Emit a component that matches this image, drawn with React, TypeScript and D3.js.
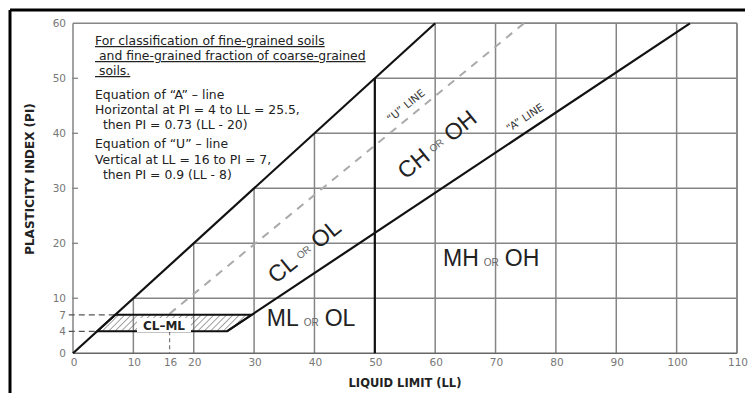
import React from "react";
import * as d3 from "d3";

const xTickLabels = [0, 10, 16, 20, 30, 40, 50, 60, 70, 80, 90, 100, 110];
const yTickLabels = [0, 4, 7, 10, 20, 30, 40, 50, 60];
const gridX = [10, 20, 30, 40, 50, 60, 70, 80, 90, 100, 110];
const gridY = [10, 20, 30, 40, 50, 60];
const yInnerTicks = [10, 20, 30, 40, 50];

// boundary lines in (LL, PI)
const boundaryLine: [number, number][] = [[0, 0], [60, 60]];
const llFiftyLine: [number, number][] = [[50, 0], [50, 50]];
const aLine: [number, number][] = [[25.5, 4], [102.2, 60]];
const uLine: [number, number][] = [[16, 7.2], [74.7, 60]];
const uVertical: [number, number][] = [[16, 4], [16, 0]];
const clmlZone: [number, number][] = [[4, 4], [25.5, 4], [29.6, 7], [7, 7]];
const refDash7: [number, number][] = [[-0.7, 7], [7, 7]];
const refDash4: [number, number][] = [[-0.7, 4], [4, 4]];

const headerLines = [
  "For classification of fine-grained soils",
  " and fine-grained fraction of coarse-grained",
  " soils.",
];
const equationLines = [
  "Equation of \u201CA\u201D \u2013 line",
  "Horizontal at PI = 4 to LL = 25.5,",
  "  then PI = 0.73 (LL - 20)",
  "Equation of \u201CU\u201D \u2013 line",
  "Vertical at LL = 16 to PI = 7,",
  "  then PI = 0.9 (LL - 8)",
];

export default function App() {
  const W = 750, H = 393;
  const x = d3.scaleLinear().domain([0, 110]).range([73, 737]);
  const y = d3.scaleLinear().domain([0, 60]).range([353.3, 23.3]);
  const line = d3.line<[number, number]>().x(d => x(d[0])).y(d => y(d[1]));
  const sans = "'DejaVu Sans', Verdana, sans-serif";
  const arial = "'Liberation Sans', Arial, sans-serif";
  const gridColor = "#858585";

  const eqY = [99, 114, 129, 148, 164, 179];

  return (
    <svg width={W} height={H} style={{ position: "absolute", left: 0, top: 0, background: "#fff" }}>
      <defs>
        <pattern id="hatch" patternUnits="userSpaceOnUse" width={4.5} height={4.5} patternTransform="rotate(45)">
          <line x1={0} y1={0} x2={0} y2={4.5} stroke="#555" strokeWidth={1.1} />
        </pattern>
      </defs>
      <rect x={0} y={0} width={W} height={H} fill="#fff" />
      {/* outer frame */}
      <line x1={10} y1={10} x2={745} y2={10} stroke="#000" strokeWidth={3} />
      <line x1={10} y1={10} x2={10} y2={H} stroke="#000" strokeWidth={3} />

      {/* grid, only below the PI = LL boundary */}
      {gridX.map(v => (
        <line key={"gx" + v} x1={x(v)} x2={x(v)} y1={y(0)} y2={y(Math.min(v, 60))} stroke={gridColor} strokeWidth={1.5} />
      ))}
      {gridY.map(v => (
        <line key={"gy" + v} x1={x(v)} x2={x(110)} y1={y(v)} y2={y(v)} stroke={gridColor} strokeWidth={1.5} />
      ))}
      {/* frame of plot */}
      <line x1={x(0)} x2={x(110)} y1={y(60)} y2={y(60)} stroke={gridColor} strokeWidth={1.5} />
      <line x1={x(0)} x2={x(0)} y1={y(0)} y2={y(60)} stroke={gridColor} strokeWidth={1.5} />
      <line x1={x(110)} x2={x(110)} y1={y(0)} y2={y(60)} stroke={gridColor} strokeWidth={1.5} />
      <line x1={x(0)} x2={x(110)} y1={y(0)} y2={y(0)} stroke="#666" strokeWidth={1.6} />
      {yInnerTicks.map(v => (
        <line key={"yt" + v} x1={x(0) - 1} x2={x(0) + 5} y1={y(v)} y2={y(v)} stroke={gridColor} strokeWidth={1.3} />
      ))}

      {/* reference dashes */}
      <path d={line(refDash7) || ""} stroke="#555" strokeWidth={1.2} strokeDasharray="6,4" fill="none" />
      <path d={line(refDash4) || ""} stroke="#555" strokeWidth={1.2} strokeDasharray="6,4" fill="none" />
      <path d={line(uVertical) || ""} stroke="#777" strokeWidth={1.2} strokeDasharray="4,3" fill="none" />

      {/* U line */}
      <path d={line(uLine) || ""} stroke="#aaa" strokeWidth={2} strokeDasharray="8,7" fill="none" />

      {/* CL-ML zone */}
      <path d={(line(clmlZone) || "") + "Z"} fill="url(#hatch)" stroke="#111" strokeWidth={2} />
      <rect x={137} y={318} width={54} height={14} fill="#fff" />
      <text x={164} y={329.5} textAnchor="middle" fontFamily={sans} fontWeight="bold" fontSize={12} fill="#222">CL–ML</text>

      {/* main boundary lines */}
      <path d={line(boundaryLine) || ""} stroke="#111" strokeWidth={2.2} fill="none" />
      <path d={line(llFiftyLine) || ""} stroke="#111" strokeWidth={2.2} fill="none" />
      <path d={line(aLine) || ""} stroke="#111" strokeWidth={2.2} fill="none" />

      {/* tick labels */}
      {yTickLabels.map(v => (
        <text key={"yl" + v} x={66} y={y(v) + 4} textAnchor="end" fontFamily={sans} fontSize={10.5} fill="#777">{v}</text>
      ))}
      {xTickLabels.map(v => (
        <text key={"xl" + v} x={x(v) + 1} y={366} textAnchor="middle" fontFamily={sans} fontSize={10.5} fill="#777">{v}</text>
      ))}

      {/* axis titles */}
      <text x={405} y={387} textAnchor="middle" fontFamily={sans} fontWeight="bold" fontSize={11.5} fill="#222">LIQUID LIMIT (LL)</text>
      <text transform="translate(34,179) rotate(-90)" textAnchor="middle" fontFamily={sans} fontWeight="bold" fontSize={12} fill="#222">PLASTICITY INDEX (PI)</text>

      {/* notes */}
      {headerLines.map((t, i) => (
        <text key={"h" + i} x={95} y={45 + i * 15} fontFamily={sans} fontSize={12.4} fill="#222" textDecoration="underline" style={{ whiteSpace: "pre" }}>{t}</text>
      ))}
      {equationLines.map((t, i) => (
        <text key={"e" + i} x={95} y={eqY[i]} fontFamily={sans} fontSize={12.4} fill="#222" style={{ whiteSpace: "pre" }}>{t}</text>
      ))}

      {/* line labels */}
      <text transform={`translate(${x(55.5)},${y(44.5)}) rotate(-39)`} textAnchor="middle" fontFamily={sans} fontSize={10.5} fill="#333">“U” LINE</text>
      <text transform={`translate(${x(75.2)},${y(42.3)}) rotate(-33.6)`} textAnchor="middle" fontFamily={sans} fontSize={10.5} fill="#333">“A” LINE</text>

      {/* zone labels */}
      <text transform={`translate(${x(38.3)},${y(18.6)}) rotate(-39)`} textAnchor="middle" dominantBaseline="central" fontFamily={arial} fill="#222">
        <tspan fontSize={23}>CL</tspan>
        <tspan fontSize={10} dx={5} fill="#666">OR</tspan>
        <tspan fontSize={23} dx={6}>OL</tspan>
      </text>
      <text transform={`translate(${x(60.3)},${y(38.0)}) rotate(-39)`} textAnchor="middle" dominantBaseline="central" fontFamily={arial} fill="#222">
        <tspan fontSize={23}>CH</tspan>
        <tspan fontSize={10} dx={5} fill="#666">OR</tspan>
        <tspan fontSize={23} dx={6}>OH</tspan>
      </text>
      <text x={x(32.1)} y={y(5)} fontFamily={arial} fill="#222">
        <tspan fontSize={23}>ML</tspan>
        <tspan fontSize={10} dx={5} fill="#666">OR</tspan>
        <tspan fontSize={23} dx={6}>OL</tspan>
      </text>
      <text x={x(61.3)} y={y(15.9)} fontFamily={arial} fill="#222">
        <tspan fontSize={23}>MH</tspan>
        <tspan fontSize={10} dx={5} fill="#666">OR</tspan>
        <tspan fontSize={23} dx={6}>OH</tspan>
      </text>
    </svg>
  );
}
